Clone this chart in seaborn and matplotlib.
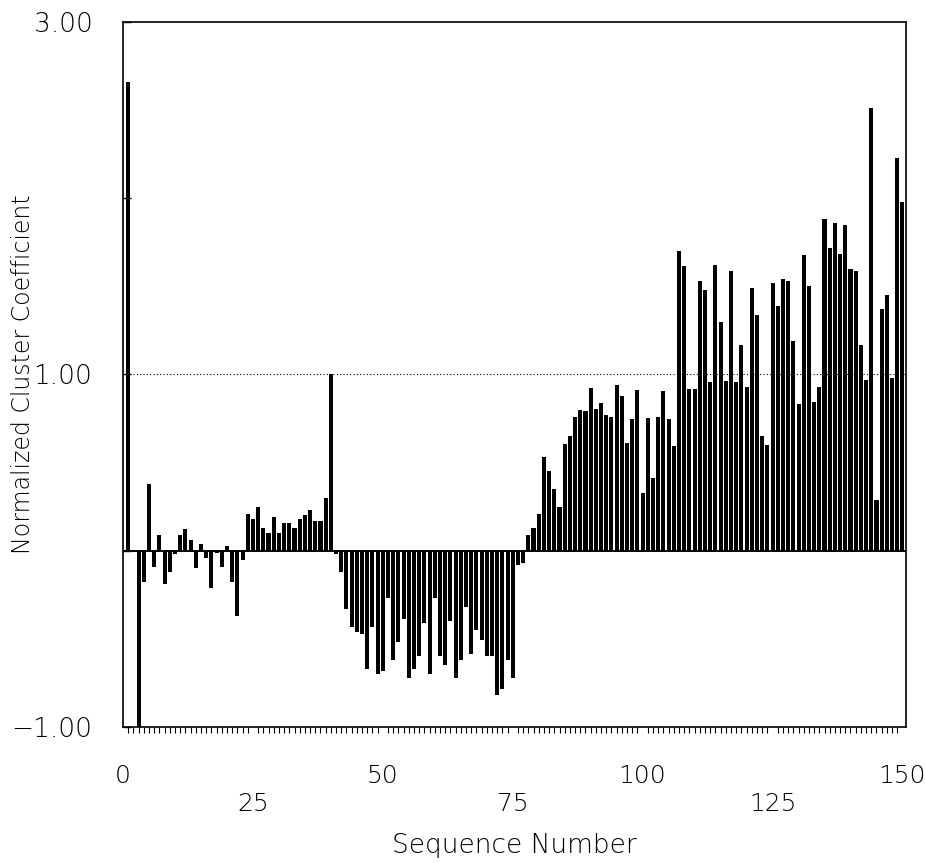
import matplotlib
matplotlib.use("Agg")
import matplotlib.pyplot as plt
import seaborn as sns
import pandas as pd

# sequence numbers 1..150 and normalized cluster coefficients
seq = list(range(1, 151))
coef = [
    2.66, 0.00, -1.00, -0.18, 0.38, -0.09, 0.09, -0.19, -0.12, -0.02,
    0.09, 0.125, 0.06, -0.10, 0.04, -0.04, -0.21, -0.01, -0.09, 0.025,
    -0.18, -0.37, -0.05, 0.21, 0.18, 0.25, 0.13, 0.10, 0.19, 0.10,
    0.16, 0.16, 0.13, 0.18, 0.205, 0.23, 0.17, 0.17, 0.30, 1.00,
    -0.02, -0.12, -0.33, -0.43, -0.46, -0.47, -0.67, -0.43, -0.70, -0.68,
    -0.27, -0.62, -0.52, -0.39, -0.72, -0.67, -0.60, -0.41, -0.70, -0.27,
    -0.60, -0.65, -0.40, -0.72, -0.62, -0.32, -0.585, -0.45, -0.505, -0.60,
    -0.60, -0.82, -0.785, -0.62, -0.72, -0.08, -0.07, 0.09, 0.13, 0.21,
    0.53, 0.45, 0.35, 0.25, 0.605, 0.65, 0.76, 0.80, 0.795, 0.925,
    0.805, 0.84, 0.77, 0.76, 0.94, 0.88, 0.61, 0.75, 0.91, 0.33,
    0.755, 0.415, 0.76, 0.905, 0.745, 0.595, 1.70, 1.615, 0.915, 0.915,
    1.53, 1.48, 0.96, 1.62, 1.30, 0.965, 1.59, 0.96, 1.17, 0.93,
    1.49, 1.34, 0.65, 0.60, 1.52, 1.39, 1.54, 1.53, 1.19, 0.83,
    1.68, 1.50, 0.845, 0.93, 1.88, 1.72, 1.86, 1.685, 1.85, 1.60,
    1.59, 1.165, 0.97, 2.51, 0.29, 1.37, 1.45, 0.98, 2.23, 1.98,
]

x_major = [0, 25, 50, 75, 100, 125, 150]
x_labels = ["0", "\n25", "50", "\n75", "100", "\n125", "150"]
y_ticks = [-1, 0, 1, 2, 3]
y_labels = ["\u22121.00", "", "1.00", "", "3.00"]

df = pd.DataFrame({"seq": seq, "coef": coef})

sns.set_style("white")
plt.rcParams["font.family"] = ["DejaVu Sans"]
plt.rcParams["text.color"] = "black"
plt.rcParams["axes.labelcolor"] = "black"
plt.rcParams["xtick.color"] = "black"
plt.rcParams["ytick.color"] = "black"

fig = plt.figure(figsize=(9.25, 8.63), dpi=100)
ax = fig.add_axes([0.133, 0.1576, 0.846, 0.8169])

sns.barplot(data=df, x="seq", y="coef", native_scale=True, color="black",
            saturation=1, width=0.78, errorbar=None, ax=ax)

# bars: about 0.78 of the spacing, centred on each sequence number
for p in ax.patches:
    cx = p.get_x() + p.get_width() / 2
    p.set_width(0.78)
    p.set_x(cx - 0.39)
    p.set_edgecolor("none")

ax.axhline(0, color="black", lw=1.4, zorder=3)
ax.axhline(1, color="black", lw=0.8, ls=(0, (1, 2)), zorder=3)

ax.set_xlim(0, 150.6)
ax.set_ylim(-1, 3)

ax.set_xticks(x_major)
ax.set_xticklabels(x_labels, fontsize=18, fontweight="light")
ax.set_xticks(range(0, 151), minor=True)
ax.tick_params(axis="x", which="major", direction="out", length=18, width=1, pad=9)
ax.tick_params(axis="x", which="minor", direction="out", length=4.5, width=0.8, bottom=True)

ax.set_yticks(y_ticks)
ax.set_yticklabels(y_labels, fontsize=19, fontweight="light")
ax.tick_params(axis="y", direction="in", length=6, width=1, pad=22, left=True)

for s in ax.spines.values():
    s.set_visible(True)
    s.set_color("black")
    s.set_linewidth(1.2)

ax.set_xlabel("Sequence Number", fontsize=19, fontweight="light", labelpad=12)
ax.set_ylabel("Normalized Cluster Coefficient", fontsize=17, fontweight="light")
ax.yaxis.set_label_coords(-0.113, 0.5)

fig.savefig("out.png", dpi=100)
